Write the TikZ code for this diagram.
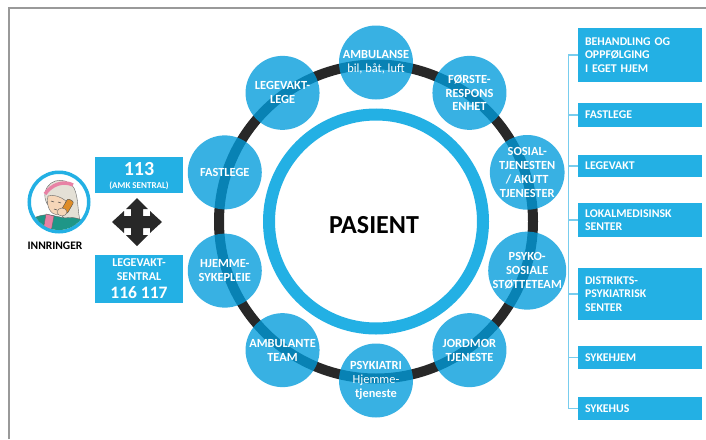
\documentclass[tikz,border=0pt]{standalone}
\usepackage{fontspec}
\setmainfont{Carlito}
\usetikzlibrary{calc}
\definecolor{cb}{RGB}{35,176,228}
\definecolor{cbb}{RGB}{0,156,220}
\definecolor{ringdark}{RGB}{40,40,40}
\definecolor{connblue}{RGB}{120,205,238}
\definecolor{skin}{RGB}{246,214,184}
\definecolor{hair}{RGB}{228,224,214}
\definecolor{pinkband}{RGB}{232,130,165}
\definecolor{cloth}{RGB}{30,150,135}
\definecolor{phonec}{RGB}{222,140,40}
\begin{document}
\begin{tikzpicture}[x=1pt,y=-1pt,
  bubble/.style={circle, fill=cbb, fill opacity=0.78, text opacity=1, text=white,
    minimum size=74pt, inner sep=0pt, align=center,
    font=\bfseries\fontsize{12.4}{13.8}\selectfont},
  rbox/.style={rectangle, fill=cb, text=white, minimum width=124pt, text width=110pt,
    inner xsep=7pt, inner ysep=0pt, align=left,
    font=\bfseries\fontsize{11.8}{13.3}\selectfont},
  lbox/.style={rectangle, fill=cb, text=white, minimum width=88pt, inner sep=0pt,
    align=center, font=\bfseries},
  conn/.style={draw=connblue, line width=1.3pt},
  frameline/.style={draw=black!40, line width=1.3pt},
  outline/.style={draw=black!60, line width=0.4pt},
]
\useasboundingbox (0,0) rectangle (706,439);
\fill[white] (0,0) rectangle (706,439);
\draw[frameline] (9,439) -- (9,8) -- (706,8);

% rings
\coordinate (C) at (376,221.5);
\draw[ringdark, line width=10pt] (C) circle[radius=157pt];
\draw[cb, line width=12pt] (C) circle[radius=107pt];
\node[font=\bfseries\fontsize{26}{30}\selectfont] (pat) at (374,225) {PASIENT};

% bubbles
\node[bubble] (amb) at ($(C)+(-90:159)$) {AMBULANSE\\\mdseries bil, båt, luft};
\node[bubble] (forste) at ($(C)+(-54:159)$) {FØRSTE-\\RESPONS\\ENHET};
\node[bubble] (sosial) at ($(C)+(-18:159)$) {SOSIAL-\\TJENESTEN\\/ AKUTT\\TJENESTER};
\node[bubble] (psyko) at ($(C)+(18:159)$) {PSYKO-\\SOSIALE\\STØTTETEAM};
\node[bubble] (jord) at ($(C)+(54:159)$) {JORDMOR\\TJENESTE};
\node[bubble] (psyk) at ($(C)+(90:159)$) {PSYKIATRI\\\mdseries Hjemme-\\tjeneste};
\node[bubble] (ambt) at ($(C)+(126:159)$) {AMBULANTE\\TEAM};
\node[bubble] (hjem) at ($(C)+(162:159)$) {HJEMME-\\SYKEPLEIE};
\node[bubble] (fast) at ($(C)+(198:159)$) {FASTLEGE};
\node[bubble] (lvl) at ($(C)+(234:159)$) {LEGEVAKT-\\LEGE};

% left boxes
\node[lbox, minimum height=36pt] (amk) at (139,175) {};
\node[text=white, font=\bfseries\fontsize{20}{22}\selectfont] (amk113) at (139,169) {113};
\node[text=white, font=\bfseries\fontsize{9}{10}\selectfont] (amktxt) at (139,186) {(AMK SENTRAL)};
\node[lbox, minimum height=48pt] (lvs) at (139,279) {};
\node[text=white, align=center, font=\bfseries\fontsize{12}{14}\selectfont] (lvstxt) at (139,270) {LEGEVAKT-\\SENTRAL};
\node[text=white, font=\bfseries\fontsize{17.5}{19}\selectfont] (lvsnum) at (139,293) {116 117};

% four-way arrow
\fill[ringdark, shift={(137,222)}]
  (0,-24) -- (11,-13) -- (6,-13) -- (6,-6) -- (13,-6) -- (13,-11) -- (25,0)
  -- (13,11) -- (13,6) -- (6,6) -- (6,13) -- (11,13) -- (0,24)
  -- (-11,13) -- (-6,13) -- (-6,6) -- (-13,6) -- (-13,11) -- (-25,0)
  -- (-13,-11) -- (-13,-6) -- (-6,-6) -- (-6,-13) -- (-11,-13) -- cycle;

% caller icon
\node[circle, draw=cb, line width=3.5pt, fill=white, minimum size=59.5pt, inner sep=0pt] (caller) at (59,202) {};
\begin{scope}
\clip (59,202) circle[radius=28pt];
\begin{scope}[shift={(59,202)}]
  \filldraw[fill=hair, outline] (-14,-4) .. controls (-16,-22) and (6,-28) .. (15,-14)
     .. controls (20,-4) and (18,10) .. (22,22) -- (8,22) .. controls (6,10) and (-12,10) .. (-14,-4) -- cycle;
  \filldraw[fill=cloth, outline] (-30,35) -- (-28,18) .. controls (-20,12) and (-10,12) .. (-4,14)
     -- (6,16) .. controls (16,14) and (26,18) .. (30,24) -- (30,35) -- cycle;
  \filldraw[fill=pinkband, outline] (-13,12) -- (-5,14) -- (-9,35) -- (-17,35) -- cycle;
  \filldraw[fill=skin, outline] (-11,-6) .. controls (-13,4) and (-9,12) .. (-2,13)
     .. controls (4,13) and (7,6) .. (7,-1) .. controls (2,-5) and (-5,-8) .. (-11,-6) -- cycle;
  \draw[pinkband, line width=3.5pt] (-14,-8) .. controls (-8,-17) and (4,-22) .. (14,-17);
  \draw[black!70, line width=0.5pt] (-8,-1) -- (-5,0) (-1,0) -- (2,1) (-5,7) -- (-2,8);
  \filldraw[fill=phonec, draw=black!70, line width=0.4pt, rounded corners=2pt, rotate around={-30:(8,4)}] (5,-3) rectangle (12,11);
  \filldraw[fill=skin, outline] (3,10) ellipse[x radius=5pt, y radius=4pt];
\end{scope}
\end{scope}
\node[font=\bfseries\fontsize{11.5}{13}\selectfont] (inn) at (55,246) {INNRINGER};

% right boxes
\node[rbox, minimum height=54pt] (r1) at (640,55) {BEHANDLING OG\\OPPFØLGING\\I EGET HJEM};
\node[rbox, minimum height=24pt] (r2) at (640,115) {FASTLEGE};
\node[rbox, minimum height=22pt] (r3) at (640,166) {LEGEVAKT};
\node[rbox, minimum height=34pt] (r4) at (640,220) {LOKALMEDISINSK\\SENTER};
\node[rbox, minimum height=52pt] (r5) at (640,294) {DISTRIKTS-\\PSYKIATRISK\\SENTER};
\node[rbox, minimum height=23pt] (r6) at (640,357.5) {SYKEHJEM};
\node[rbox, minimum height=23pt] (r7) at (640,408.5) {SYKEHUS};

\draw[conn] (r1.west) -- ++(-9,0) |- (r7.west);
\foreach \r in {r2,r3,r4,r5,r6} \draw[conn] (\r.west) -- ++(-9,0);
\end{tikzpicture}
\end{document}
